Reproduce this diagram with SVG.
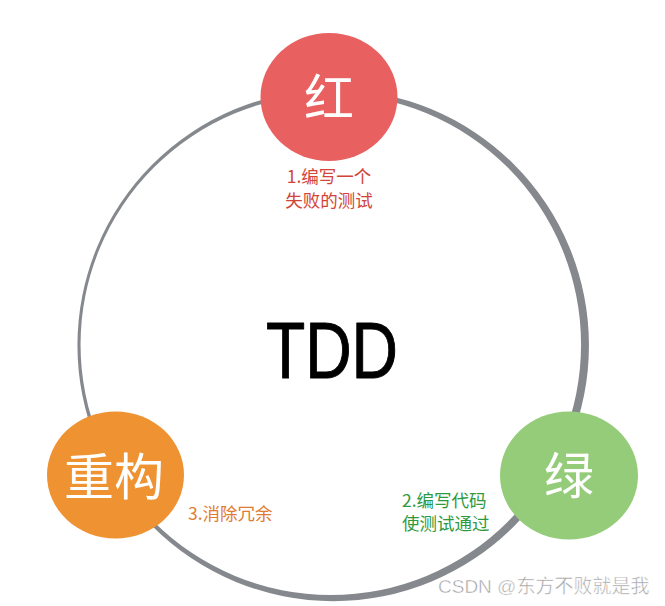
<svg xmlns="http://www.w3.org/2000/svg" width="665" height="606" viewBox="0 0 665 606">
<style>
.cjk{font-family:"Noto Sans CJK SC","Liberation Sans",sans-serif}
.big{font-size:50px;fill:#ffffff;text-anchor:middle}
.lbl{font-size:17.5px}
.ring{fill:#85888c;fill-rule:evenodd}
</style>
<rect width="665" height="606" fill="#ffffff"/>
<g id="connectors">
<path class="ring" d="M 77.45 345.4 a 255.75 255.75 0 1 0 511.5 0 a 255.75 255.75 0 1 0 -511.5 0 Z M 80.55 344.6 a 250.25 250.25 0 1 0 500.5 0 a 250.25 250.25 0 1 0 -500.5 0 Z"/>
</g>
<g id="center">
<text x="266" y="378" font-family="Liberation Sans, sans-serif" font-size="80" fill="#000" stroke="#000" stroke-width="1" stroke-linejoin="round" textLength="132" lengthAdjust="spacingAndGlyphs">TDD</text>
</g>
<g id="red">
<ellipse cx="329" cy="97" rx="68.5" ry="64" fill="#e96060"/>
<text class="cjk big" x="329" y="116">红</text>
<text class="cjk lbl" x="329" y="183" fill="#d2443a" text-anchor="middle">1.编写一个</text>
<text class="cjk lbl" x="329" y="207" fill="#d2443a" text-anchor="middle">失败的测试</text>
</g>
<g id="green">
<ellipse cx="569" cy="475.5" rx="69" ry="64" fill="#95cc79"/>
<text class="cjk big" x="569" y="494">绿</text>
<text class="cjk lbl" x="402" y="507" fill="#2e9a3e">2.编写代码</text>
<text class="cjk lbl" x="402" y="530" fill="#2e9a3e">使测试通过</text>
</g>
<g id="orange">
<ellipse cx="115.5" cy="475" rx="68.5" ry="63.5" fill="#ef9232"/>
<text class="cjk big" x="114" y="495" font-size="52">重构</text>
<text class="cjk lbl" x="188" y="520" fill="#e27b32">3.消除冗余</text>
</g>
<g id="watermark">
<text x="438" y="593" font-family="'Liberation Sans','Noto Sans CJK SC',sans-serif" font-size="19" fill="#a0a0a0" stroke="#ffffff" stroke-width="0.5">CSDN @东方不败就是我</text>
</g>
</svg>
